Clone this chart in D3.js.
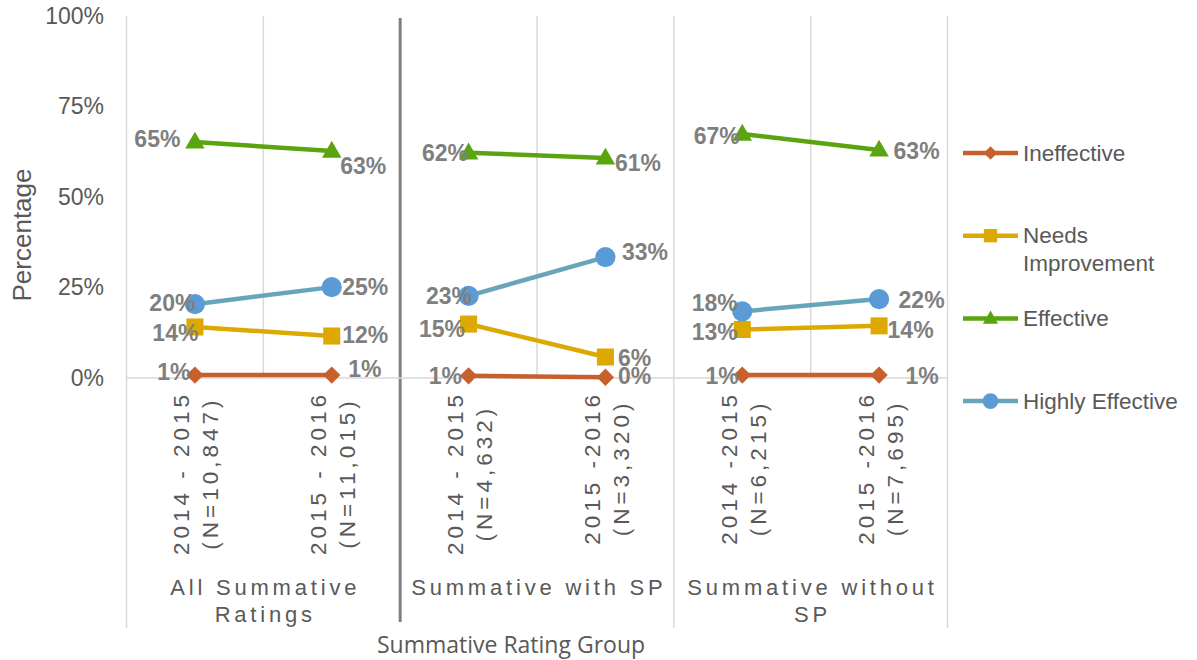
<!DOCTYPE html>
<html>
<head>
<meta charset="utf-8">
<script src="https://cdn.jsdelivr.net/npm/d3@7"></script>
<style>
  body { margin: 0; background: #fff; }
  svg { display: block; }
</style>
</head>
<body>
<svg id="chart" width="1197" height="660"></svg>
<script>
// ---------------- DATA ----------------
const categoryPeriods = ["2014 - 2015", "2015 - 2016", "2014 - 2015", "2015 -2016", "2014 -2015", "2015 -2016"];
const categorySizes = ["(N=10,847)", "(N=11,015)", "(N=4,632)", "(N=3,320)", "(N=6,215)", "(N=7,695)"];
const categoryGroups = ["All Summative Ratings", "All Summative Ratings",
                        "Summative with SP", "Summative with SP",
                        "Summative without SP", "Summative without SP"];
const seriesNames = ["Ineffective", "Needs Improvement", "Effective", "Highly Effective"];
const ineffective      = [0.8, 0.8, 0.6, 0.2, 0.8, 0.8];
const needsImprovement = [14.1, 11.6, 14.9, 5.8, 13.4, 14.4];
const effective        = [65.2, 62.7, 62.2, 60.8, 67.4, 63.0];
const highlyEffective  = [20.4, 25.1, 22.7, 33.4, 18.4, 21.8];
const yTicks = [0, 25, 50, 75, 100];
const yTitle = "Percentage";
const xTitle = "Summative Rating Group";

// ---------------- LAYOUT / STYLE ----------------
const seriesValues = [ineffective, needsImprovement, effective, highlyEffective];
const lineColors   = ["#C8602D", "#DDA800", "#5AA50F", "#69A5BA"];
const markerColors = ["#C8602D", "#DDA800", "#5AA50F", "#5B9BD5"];
const markerShapes = ["diamond", "square", "triangle", "circle"];
// label nudges [dx, dy] relative to each point (first point of a group: label ends at dx; second: starts at dx)
const labelNudges = [
  [[-4.5, -3], [16.5, -6], [-6.5, 0], [12.5, -1], [-3.5, 1], [26.5, 1]],
  [[3.5, 6], [10.5, -1], [-3.5, 5], [12.5, 1], [-4.5, 3], [8.5, 4]],
  [[-14.5, -3], [8.5, 15], [-0.5, 0], [9.5, 5], [-2.5, 2], [14.5, 1]],
  [[0.5, -1], [10.5, 0], [3.5, 0], [16.5, -5], [-4.5, -8], [19.5, 1]]
];
const FONT = "'Liberation Sans', Arial, Helvetica, sans-serif";
const TEXT = "#595959";
const GRID = "#D9D9D9";

const plot = { left: 126.5, right: 947.5, top: 16, bottom: 378 };
const svg = d3.select("#chart");

const idx = categoryPeriods.map((d, i) => i);
const x = d3.scaleBand().domain(idx).range([plot.left, plot.right]).paddingInner(0).paddingOuter(0);
const y = d3.scaleLinear().domain([0, 100]).range([plot.bottom, plot.top]);
const cx = i => x(i) + x.bandwidth() / 2;

// measuring helper
const measurer = svg.append("text").attr("visibility", "hidden");
function textWidth(str, size, weight, ls) {
  measurer.attr("font-family", FONT).attr("font-size", size).attr("font-weight", weight || "normal")
    .attr("letter-spacing", ls || 0).text(str);
  return measurer.node().getComputedTextLength();
}
function wrap(str, maxW, size, ls) {
  const words = str.split(" ");
  const lines = [];
  let cur = "";
  words.forEach(w => {
    const t = cur ? cur + " " + w : w;
    if (cur && textWidth(t, size, "normal", ls) > maxW) { lines.push(cur); cur = w; }
    else cur = t;
  });
  if (cur) lines.push(cur);
  return lines;
}

// ---------------- GRID ----------------
const grid = svg.append("g");
for (let b = 0; b <= idx.length; b++) {
  const bx = b < idx.length ? x(b) : plot.right;
  const groupEdge = b === 0 || b === idx.length || categoryGroups[b] !== categoryGroups[b - 1];
  if (b === 2) {
    grid.append("line").attr("x1", bx).attr("x2", bx).attr("y1", plot.top + 2).attr("y2", 622)
      .attr("stroke", "#808080").attr("stroke-width", 3);
  } else {
    grid.append("line").attr("x1", bx).attr("x2", bx).attr("y1", plot.top)
      .attr("y2", groupEdge ? 628 : plot.bottom)
      .attr("stroke", GRID).attr("stroke-width", 1.5);
  }
}
grid.append("line").attr("x1", plot.left).attr("x2", plot.right)
  .attr("y1", y(0)).attr("y2", y(0)).attr("stroke", GRID).attr("stroke-width", 1.5);

// ---------------- Y AXIS ----------------
const yAxis = svg.append("g").attr("transform", `translate(${plot.left},0)`)
  .call(d3.axisLeft(y).tickValues(yTicks).tickFormat(d => d + "%").tickSize(0).tickPadding(22.5));
yAxis.select(".domain").remove();
yAxis.selectAll("text").attr("font-family", FONT).attr("font-size", 23).attr("fill", TEXT);

svg.append("text")
  .attr("transform", `translate(31,235) rotate(-90)`)
  .attr("text-anchor", "middle")
  .attr("font-family", FONT).attr("font-size", 26).attr("fill", TEXT)
  .text(yTitle);

// ---------------- X CATEGORY LABELS ----------------
const tickG = svg.append("g");
const TICK_SIZE = 22.5, TICK_LS = 4;
idx.forEach(i => {
  const lines = [categoryPeriods[i], categorySizes[i]];
  const lens = lines.map(l => textWidth(l, TICK_SIZE, "normal", TICK_LS) - TICK_LS);
  const maxLen = d3.max(lens);
  const midY = 395 + maxLen / 2;
  const offs = [-13, 16];
  lines.forEach((l, k) => {
    tickG.append("text")
      .attr("transform", `translate(${cx(i) + offs[k]},${midY}) rotate(-90)`)
      .attr("text-anchor", "middle").attr("dominant-baseline", "central")
      .attr("dx", TICK_LS / 2)
      .attr("font-family", FONT).attr("font-size", TICK_SIZE).attr("fill", TEXT)
      .attr("letter-spacing", TICK_LS)
      .text(l);
  });
});

// group labels
const groupNames = Array.from(new Set(categoryGroups));
const GROUP_SIZE = 22, GROUP_LS = 3.8;
groupNames.forEach(g => {
  const members = idx.filter(i => categoryGroups[i] === g);
  const gx0 = x(members[0]);
  const gx1 = x(members[members.length - 1]) + x.bandwidth();
  const gc = (gx0 + gx1) / 2;
  const lines = wrap(g, gx1 - gx0 + 10, GROUP_SIZE, GROUP_LS);
  lines.forEach((l, k) => {
    svg.append("text")
      .attr("x", gc).attr("y", 595 + k * 27)
      .attr("dx", GROUP_LS / 2)
      .attr("text-anchor", "middle")
      .attr("font-family", FONT).attr("font-size", GROUP_SIZE).attr("fill", TEXT)
      .attr("letter-spacing", GROUP_LS)
      .text(l);
  });
});

svg.append("text")
  .attr("x", (plot.left + plot.right) / 2 - 26).attr("y", 653)
  .attr("text-anchor", "middle")
  .attr("font-family", "'Open Sans', 'Noto Sans', sans-serif").attr("font-size", 23).attr("fill", TEXT)
  .text(xTitle);

// ---------------- SERIES ----------------
function symbolPath(shape, big) {
  const s = big ? 1 : 0.78;
  if (shape === "diamond") return d3.symbol(d3.symbolSquare, 150 * s * s)();
  if (shape === "square") return d3.symbol(d3.symbolSquare, 290 * s * s)();
  if (shape === "triangle") return d3.symbol(d3.symbolTriangle, 165 * s * s)();
  return d3.symbol(d3.symbolCircle, 320 * s * s)();
}
const line = d3.line().x(d => cx(d.i)).y(d => y(d.v));
const seriesG = svg.append("g");
seriesValues.forEach((vals, s) => {
  const pts = vals.map((v, i) => ({ v, i, g: categoryGroups[i] }));
  const byGroup = d3.groups(pts, d => d.g);
  byGroup.forEach(([g, arr]) => {
    seriesG.append("path").attr("d", line(arr))
      .attr("fill", "none").attr("stroke", lineColors[s]).attr("stroke-width", 4.5)
      .attr("stroke-linejoin", "round");
  });
  pts.forEach(p => {
    seriesG.append("path")
      .attr("d", symbolPath(markerShapes[s], true))
      .attr("transform", `translate(${cx(p.i)},${y(p.v)})` + (markerShapes[s] === "diamond" ? " rotate(45)" : "") +
        (markerShapes[s] === "triangle" ? " translate(0,1)" : ""))
      .attr("fill", markerColors[s]);
  });
});

// data labels
const labelG = svg.append("g");
seriesValues.forEach((vals, s) => {
  vals.forEach((v, i) => {
    const members = idx.filter(j => categoryGroups[j] === categoryGroups[i]);
    const first = members[0] === i;
    const [dx, dy] = labelNudges[s][i];
    labelG.append("text")
      .attr("x", cx(i) + dx).attr("y", y(v) + dy)
      .attr("dominant-baseline", "central")
      .attr("text-anchor", first ? "end" : "start")
      .attr("font-family", FONT).attr("font-size", 23).attr("font-weight", "bold")
      .attr("fill", "#7F7F7F")
      .text(Math.round(v) + "%");
  });
});

// ---------------- LEGEND ----------------
const legend = svg.append("g");
const LEG_X0 = 963, LEG_X1 = 1018, LEG_TX = 1023, LEG_Y0 = 153, LEG_STEP = 82.7;
seriesNames.forEach((name, s) => {
  const ly = LEG_Y0 + s * LEG_STEP;
  legend.append("line").attr("x1", LEG_X0).attr("x2", LEG_X1).attr("y1", ly).attr("y2", ly)
    .attr("stroke", lineColors[s]).attr("stroke-width", 4.5);
  legend.append("path")
    .attr("d", symbolPath(markerShapes[s], false))
    .attr("transform", `translate(${(LEG_X0 + LEG_X1) / 2},${ly})` + (markerShapes[s] === "diamond" ? " rotate(45)" : "") +
      (markerShapes[s] === "triangle" ? " translate(0,1)" : ""))
    .attr("fill", markerColors[s]);
  const lines = wrap(name, 1197 - LEG_TX - 6, 22.5, 0);
  lines.forEach((l, k) => {
    legend.append("text")
      .attr("x", LEG_TX).attr("y", ly + k * 28)
      .attr("dominant-baseline", "central")
      .attr("font-family", FONT).attr("font-size", 22.5).attr("fill", TEXT)
      .text(l);
  });
});
measurer.remove();
</script>
</body>
</html>
